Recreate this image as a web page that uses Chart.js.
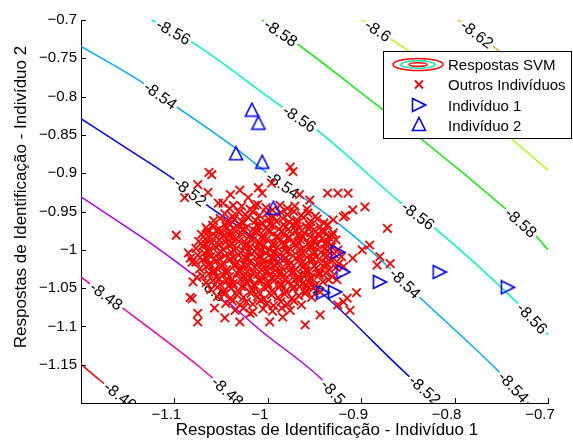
<!DOCTYPE html>
<html><head><meta charset="utf-8">
<script src="https://cdn.jsdelivr.net/npm/chart.js@4.4.0/dist/chart.umd.min.js"></script>
<style>html,body{margin:0;padding:0;background:#fff;}canvas{display:block;}</style>
</head><body>
<canvas id="c" width="573" height="444"></canvas>
<script>
// ---------- data ----------
const xTicks = [-1.1, -1, -0.9, -0.8, -0.7];
const xTickLabels = ['\u22121.1', '\u22121', '\u22120.9', '\u22120.8', '\u22120.7'];
const yTicks = [-1.15, -1.1, -1.05, -1, -0.95, -0.9, -0.85, -0.8, -0.75, -0.7];
const yTickLabels = ['\u22121.15', '\u22121.1', '\u22121.05', '\u22121', '\u22120.95', '\u22120.9', '\u22120.85', '\u22120.8', '\u22120.75', '\u22120.7'];

const contourLevels = ['-8.46', '-8.48', '-8.5', '-8.52', '-8.54', '-8.56', '-8.58', '-8.6', '-8.62'];
const contourColors = ['#ff0000', '#ff00aa', '#aa00ff', '#0000ff', '#00aaff', '#00ffaa', '#00ee00', '#aaff00', '#ffaa00'];

const curva846 = [[-1.205,-1.144],[-1.180,-1.170],[-1.148,-1.200],[-1.142,-1.206]];
const curva848 = [[-1.205,-1.031],[-1.126,-1.103],[-1.073,-1.153],[-1.029,-1.200],[-1.024,-1.206]];
const curva850 = [[-1.205,-0.927],[-1.126,-0.991],[-1.076,-1.036],[-1.043,-1.068],[-1.008,-1.105],[-0.944,-1.167],[-0.919,-1.200],[-0.914,-1.206]];
const curva852 = [[-1.205,-0.825],[-1.148,-0.870],[-1.097,-0.911],[-1.067,-0.940],[-1.022,-0.978],[-0.937,-1.062],[-0.848,-1.166],[-0.816,-1.200],[-0.811,-1.206]];
const curva854 = [[-1.205,-0.731],[-1.134,-0.782],[-1.097,-0.814],[-1.060,-0.845],[-1.034,-0.868],[-0.984,-0.915],[-0.962,-0.932],[-0.912,-0.978],[-0.880,-1.012],[-0.840,-1.059],[-0.751,-1.161],[-0.721,-1.200],[-0.716,-1.206]];
const curva856 = [[-1.137,-0.691],[-1.124,-0.700],[-1.081,-0.729],[-0.984,-0.814],[-0.947,-0.844],[-0.858,-0.938],[-0.823,-0.970],[-0.733,-1.069],[-0.700,-1.111],[-0.695,-1.117]];
const curva858 = [[-1.016,-0.690],[-1.006,-0.700],[-0.971,-0.729],[-0.880,-0.814],[-0.834,-0.857],[-0.744,-0.948],[-0.712,-0.983],[-0.700,-1.000],[-0.695,-1.006]];
const curva860 = [[-0.909,-0.690],[-0.899,-0.700],[-0.867,-0.726],[-0.851,-0.739],[-0.794,-0.795],[-0.737,-0.857],[-0.700,-0.896],[-0.695,-0.901]];
const curva862 = [[-0.806,-0.690],[-0.796,-0.700],[-0.760,-0.733],[-0.751,-0.742],[-0.700,-0.794],[-0.695,-0.799]];
const contourLines = [curva846, curva848, curva850, curva852, curva854, curva856, curva858, curva860, curva862];

// label positions on each contour (data units)
const rotulos846 = [[-1.158,-1.190]];
const rotulos848 = [[-1.173,-1.061],[-1.043,-1.186]];
const rotulos850 = [[-1.059,-1.054],[-0.930,-1.184]];
const rotulos852 = [[-1.083,-0.926],[-0.957,-1.050],[-0.832,-1.183]];
const rotulos854 = [[-1.115,-0.797],[-0.984,-0.915],[-0.853,-1.043],[-0.737,-1.180]];
const rotulos856 = [[-1.101,-0.717],[-0.966,-0.828],[-0.839,-0.955],[-0.717,-1.089]];
const rotulos858 = [[-0.986,-0.717],[-0.729,-0.968]];
const rotulos860 = [[-0.882,-0.713]];
const rotulos862 = [[-0.776,-0.720]];
const contourLabelPos = [rotulos846, rotulos848, rotulos850, rotulos852, rotulos854, rotulos856, rotulos858, rotulos860, rotulos862];

const individuo1 = [[-0.925,-1.003],[-0.919,-1.029],[-0.928,-1.055],[-0.941,-1.056],[-0.880,-1.042],[-0.816,-1.029],[-0.743,-1.049]];
const individuo2 = [[-1.017,-0.817],[-1.010,-0.834],[-1.034,-0.874],[-1.006,-0.885],[-0.994,-0.945]];

const outrosIndividuos = [
[-1.041,-0.946],[-1.028,-0.943],[-1.019,-0.947],[-1.011,-0.941],[-1.002,-0.945],[-0.995,-0.948],[-0.987,-0.942],[-0.979,-0.946],[-0.971,-0.943],[-0.958,-0.947],
[-1.046,-0.953],[-1.038,-0.956],[-1.031,-0.951],[-1.024,-0.954],[-1.016,-0.950],[-1.009,-0.955],[-1.001,-0.952],[-0.994,-0.957],[-0.986,-0.951],[-0.979,-0.954],[-0.972,-0.950],[-0.964,-0.955],[-0.957,-0.952],[-0.949,-0.956],
[-1.058,-0.962],[-1.051,-0.959],[-1.043,-0.964],[-1.036,-0.960],[-1.028,-0.963],[-1.021,-0.958],[-1.013,-0.962],[-1.006,-0.965],[-0.999,-0.960],[-0.991,-0.963],[-0.984,-0.959],[-0.977,-0.964],[-0.969,-0.961],[-0.962,-0.958],[-0.954,-0.963],[-0.947,-0.960],[-0.940,-0.965],
[-1.066,-0.971],[-1.059,-0.968],[-1.052,-0.973],[-1.045,-0.969],[-1.037,-0.972],[-1.030,-0.967],[-1.023,-0.971],[-1.016,-0.974],[-1.009,-0.969],[-1.002,-0.972],[-0.995,-0.968],[-0.988,-0.973],[-0.981,-0.970],[-0.973,-0.967],[-0.966,-0.972],[-0.959,-0.969],[-0.951,-0.974],[-0.944,-0.970],[-0.936,-0.967],
[-1.071,-0.980],[-1.064,-0.977],[-1.056,-0.982],[-1.049,-0.978],[-1.041,-0.981],[-1.034,-0.976],[-1.027,-0.980],[-1.020,-0.983],[-1.012,-0.978],[-1.005,-0.981],[-0.998,-0.977],[-0.990,-0.982],[-0.983,-0.979],[-0.976,-0.976],[-0.968,-0.981],[-0.961,-0.978],[-0.954,-0.983],[-0.946,-0.979],[-0.939,-0.976],[-0.931,-0.981],
[-1.074,-0.989],[-1.067,-0.986],[-1.060,-0.991],[-1.052,-0.987],[-1.045,-0.990],[-1.038,-0.985],[-1.031,-0.989],[-1.023,-0.992],[-1.016,-0.987],[-1.009,-0.990],[-1.001,-0.986],[-0.994,-0.991],[-0.987,-0.988],[-0.979,-0.985],[-0.972,-0.990],[-0.965,-0.987],[-0.957,-0.992],[-0.950,-0.988],[-0.942,-0.985],[-0.935,-0.990],[-0.927,-0.987],
[-1.077,-0.998],[-1.070,-0.995],[-1.063,-1.000],[-1.056,-0.996],[-1.048,-0.999],[-1.041,-0.994],[-1.034,-0.998],[-1.027,-1.001],[-1.019,-0.996],[-1.012,-0.999],[-1.005,-0.995],[-0.998,-1.000],[-0.990,-0.997],[-0.983,-0.994],[-0.976,-0.999],[-0.969,-0.996],[-0.961,-1.001],[-0.954,-0.997],[-0.947,-0.994],[-0.939,-0.999],[-0.932,-0.996],[-0.925,-1.000],
[-1.075,-1.007],[-1.068,-1.004],[-1.061,-1.009],[-1.053,-1.005],[-1.046,-1.008],[-1.039,-1.003],[-1.031,-1.007],[-1.024,-1.010],[-1.017,-1.005],[-1.009,-1.008],[-1.002,-1.004],[-0.995,-1.009],[-0.987,-1.006],[-0.980,-1.003],[-0.973,-1.008],[-0.965,-1.005],[-0.958,-1.010],[-0.951,-1.006],[-0.943,-1.003],[-0.936,-1.008],[-0.929,-1.005],[-0.921,-1.009],
[-1.077,-1.016],[-1.070,-1.013],[-1.062,-1.018],[-1.055,-1.014],[-1.048,-1.017],[-1.040,-1.012],[-1.033,-1.016],[-1.026,-1.019],[-1.018,-1.014],[-1.011,-1.017],[-1.004,-1.013],[-0.997,-1.018],[-0.989,-1.015],[-0.982,-1.012],[-0.975,-1.017],[-0.967,-1.014],[-0.960,-1.019],[-0.953,-1.015],[-0.945,-1.012],[-0.938,-1.017],[-0.931,-1.014],[-0.924,-1.018],
[-1.073,-1.025],[-1.066,-1.022],[-1.058,-1.027],[-1.051,-1.023],[-1.044,-1.026],[-1.036,-1.021],[-1.029,-1.025],[-1.022,-1.028],[-1.014,-1.023],[-1.007,-1.026],[-1.000,-1.022],[-0.992,-1.027],[-0.985,-1.024],[-0.978,-1.021],[-0.970,-1.026],[-0.963,-1.023],[-0.956,-1.028],[-0.948,-1.024],[-0.941,-1.021],[-0.934,-1.026],[-0.927,-1.023],
[-1.070,-1.034],[-1.063,-1.031],[-1.055,-1.036],[-1.048,-1.032],[-1.041,-1.035],[-1.033,-1.030],[-1.026,-1.034],[-1.019,-1.037],[-1.011,-1.032],[-1.004,-1.035],[-0.997,-1.031],[-0.989,-1.036],[-0.982,-1.033],[-0.975,-1.030],[-0.967,-1.035],[-0.960,-1.032],[-0.953,-1.037],[-0.945,-1.033],[-0.938,-1.030],[-0.931,-1.035],
[-1.066,-1.043],[-1.059,-1.040],[-1.051,-1.045],[-1.044,-1.041],[-1.037,-1.044],[-1.029,-1.039],[-1.022,-1.043],[-1.015,-1.046],[-1.007,-1.041],[-1.000,-1.044],[-0.993,-1.040],[-0.985,-1.045],[-0.978,-1.042],[-0.971,-1.039],[-0.963,-1.044],[-0.956,-1.041],[-0.949,-1.046],[-0.941,-1.042],[-0.935,-1.039],
[-1.061,-1.052],[-1.054,-1.049],[-1.047,-1.054],[-1.039,-1.050],[-1.032,-1.053],[-1.025,-1.048],[-1.017,-1.052],[-1.010,-1.055],[-1.003,-1.050],[-0.995,-1.053],[-0.988,-1.049],[-0.981,-1.054],[-0.973,-1.051],[-0.966,-1.048],[-0.959,-1.053],[-0.951,-1.050],[-0.944,-1.055],
[-1.054,-1.061],[-1.047,-1.058],[-1.040,-1.063],[-1.033,-1.059],[-1.026,-1.062],[-1.018,-1.057],[-1.011,-1.061],[-1.004,-1.064],[-0.996,-1.059],[-0.989,-1.062],[-0.982,-1.058],[-0.974,-1.063],[-0.967,-1.060],[-0.960,-1.057],[-0.953,-1.062],
[-1.045,-1.070],[-1.038,-1.067],[-1.030,-1.072],[-1.023,-1.068],[-1.016,-1.071],[-1.008,-1.066],[-1.001,-1.070],[-0.994,-1.073],[-0.986,-1.068],[-0.979,-1.071],[-0.972,-1.067],[-0.964,-1.072],
[-1.035,-1.079],[-1.026,-1.076],[-1.016,-1.081],[-1.005,-1.077],[-0.995,-1.080],[-0.985,-1.076],[-0.976,-1.079],
[-1.040,-0.967],[-1.026,-0.965],[-1.012,-0.968],[-0.998,-0.966],[-0.983,-0.967],[-0.969,-0.965],[-0.955,-0.968],
[-1.055,-0.975],[-1.041,-0.977],[-1.027,-0.974],[-1.013,-0.976],[-0.999,-0.974],[-0.985,-0.977],[-0.970,-0.975],[-0.956,-0.973],[-0.942,-0.976],
[-1.062,-0.984],[-1.048,-0.982],[-1.034,-0.985],[-1.020,-0.983],[-1.005,-0.985],[-0.991,-0.983],[-0.977,-0.984],[-0.963,-0.982],[-0.949,-0.985],[-0.935,-0.983],
[-1.066,-0.993],[-1.052,-0.994],[-1.038,-0.992],[-1.024,-0.994],[-1.009,-0.992],[-0.995,-0.994],[-0.981,-0.993],[-0.967,-0.991],[-0.953,-0.994],[-0.939,-0.992],
[-1.064,-1.002],[-1.050,-1.003],[-1.036,-1.001],[-1.021,-1.003],[-1.007,-1.001],[-0.993,-1.003],[-0.979,-1.002],[-0.965,-1.000],[-0.950,-1.003],[-0.936,-1.001],
[-1.066,-1.011],[-1.052,-1.012],[-1.037,-1.010],[-1.023,-1.012],[-1.009,-1.010],[-0.995,-1.012],[-0.981,-1.011],[-0.966,-1.009],[-0.952,-1.012],[-0.938,-1.010],
[-1.063,-1.020],[-1.049,-1.021],[-1.035,-1.019],[-1.021,-1.021],[-1.006,-1.019],[-0.992,-1.021],[-0.978,-1.020],[-0.964,-1.018],[-0.950,-1.021],[-0.936,-1.019],
[-1.058,-1.029],[-1.044,-1.030],[-1.030,-1.028],[-1.016,-1.030],[-1.001,-1.028],[-0.987,-1.030],[-0.973,-1.029],[-0.959,-1.027],[-0.945,-1.030],
[-1.052,-1.038],[-1.038,-1.039],[-1.024,-1.037],[-1.010,-1.039],[-0.996,-1.037],[-0.982,-1.039],[-0.968,-1.038],[-0.954,-1.036],
[-1.042,-1.047],[-1.028,-1.048],[-1.014,-1.046],[-1.000,-1.048],[-0.986,-1.046],[-0.972,-1.048],[-0.958,-1.047],
[-1.098,-0.981],[-1.085,-1.004],[-1.083,-1.011],[-1.081,-1.016],[-1.076,-1.036],[-1.080,-1.042],[-1.083,-1.062],[-1.081,-1.064],[-1.075,-1.083],[-1.075,-1.094],
[-1.060,-0.902],[-1.063,-0.899],[-1.075,-0.915],[-1.064,-0.925],[-1.089,-0.932],[-1.053,-0.939],[-1.048,-0.939],[-1.037,-0.942],[-1.064,-0.974],[-1.044,-0.964],
[-1.021,-0.932],[-1.014,-0.942],[-1.006,-0.926],[-0.996,-0.913],[-0.976,-0.892],[-0.973,-0.898],[-1.040,-0.928],[-1.030,-0.922],[-1.010,-0.919],[-0.966,-0.928],[-0.955,-0.935],
[-0.936,-0.926],[-0.925,-0.926],[-0.914,-0.926],[-0.917,-0.955],[-0.930,-0.978],[-0.896,-0.944],[-0.909,-0.948],[-0.919,-0.957],[-0.930,-0.961],[-0.872,-0.972],
[-0.891,-0.994],[-0.899,-1.000],[-0.909,-1.011],[-0.880,-1.009],[-0.919,-1.022],[-0.883,-1.020],[-0.869,-1.018],[-0.926,-1.039],
[-0.919,-1.068],[-0.905,-1.056],[-0.915,-1.063],[-0.925,-1.072],[-0.912,-1.079],[-0.944,-1.085],[-0.960,-1.098],[-0.984,-1.088],[-1.019,-1.083],[-1.008,-1.066],
[-1.046,-1.089],[-1.030,-1.094],[-1.057,-1.076],[-0.998,-1.094]
];

// ---------- drawing ----------
const FONT = '"Liberation Sans", Arial, Helvetica, sans-serif';
const toXY = a => a.map(p => ({x: p[0], y: p[1]}));

function triImg(dir) {
  const c = document.createElement('canvas'); c.width = 16; c.height = 16;
  const g = c.getContext('2d'); g.strokeStyle = '#0000ff'; g.lineWidth = 1.6; g.beginPath();
  if (dir === 'up') { g.moveTo(8, 1.5); g.lineTo(14.5, 14.5); g.lineTo(1.5, 14.5); }
  else { g.moveTo(1.5, 1.5); g.lineTo(14.5, 8); g.lineTo(1.5, 14.5); }
  g.closePath(); g.stroke(); return c;
}
const triUp = triImg('up'), triRight = triImg('right');

const datasets = [
  {label: 'Indivíduo 2', data: toXY(individuo2), pointStyle: triUp, pointRadius: 8, borderColor: '#0000ff', backgroundColor: 'rgba(0,0,0,0)', order: 0},
  {label: 'Indivíduo 1', data: toXY(individuo1), pointStyle: triRight, pointRadius: 8, borderColor: '#0000ff', backgroundColor: 'rgba(0,0,0,0)', order: 1},
  {label: 'Outros Indivíduos', data: toXY(outrosIndividuos), pointStyle: 'crossRot', pointRadius: 6, pointBorderWidth: 1.8, borderColor: '#ff0000', backgroundColor: '#ff0000', order: 2}
];
contourLines.forEach((line, i) => {
  datasets.push({label: contourLevels[i], data: toXY(line), showLine: true, borderColor: contourColors[i], borderWidth: 1.5,
    pointRadius: 0, cubicInterpolationMode: 'monotone', fill: false, clip: 0, order: 3 + i});
});

function yAt(pts, px) {
  let k = 0;
  while (k < pts.length - 2 && pts[k + 1][0] < px) k++;
  const a = pts[k], b = pts[k + 1];
  return a[1] + (px - a[0]) / (b[0] - a[0]) * (b[1] - a[1]);
}

function drawContourLabels(chart) {
  const {ctx, chartArea: A} = chart; const xs = chart.scales.x, ys = chart.scales.y;
  ctx.save();
  ctx.beginPath(); ctx.rect(A.left, A.top, A.right - A.left, A.bottom - A.top); ctx.clip();
  ctx.font = '16px ' + FONT;
  contourLabelPos.forEach((list, i) => {
    const pts = contourLines[i].map(p => [xs.getPixelForValue(p[0]), ys.getPixelForValue(p[1])]);
    list.forEach(lp => {
      const px = xs.getPixelForValue(lp[0]);
      const py = yAt(pts, px);
      const ang = Math.atan2(yAt(pts, px + 10) - yAt(pts, px - 10), 20);
      const txt = contourLevels[i]; const w = ctx.measureText(txt).width;
      ctx.save(); ctx.translate(px, py); ctx.rotate(ang);
      ctx.fillStyle = '#fff'; ctx.fillRect(-w / 2 - 2, -4, w + 4, 8);
      ctx.fillStyle = '#000'; ctx.textAlign = 'center'; ctx.textBaseline = 'middle';
      ctx.fillText(txt, 0, 1);
      ctx.restore();
    });
  });
  ctx.restore();
}

const matlabPlugin = {
  id: 'matlab',
  afterDatasetDraw(chart, args) { if (args.index === 3) drawContourLabels(chart); },
  afterDraw(chart) {
    const {ctx, chartArea: A} = chart; const xs = chart.scales.x, ys = chart.scales.y;
    ctx.save();
    // inward ticks
    ctx.strokeStyle = '#000'; ctx.lineWidth = 1; ctx.beginPath();
    xTicks.forEach(v => { const p = Math.round(xs.getPixelForValue(v)) + 0.5; ctx.moveTo(p, A.bottom); ctx.lineTo(p, A.bottom - 5); });
    yTicks.forEach(v => { const p = Math.round(ys.getPixelForValue(v)) + 0.5; ctx.moveTo(A.left, p); ctx.lineTo(A.left + 5, p); });
    ctx.stroke();
    // axis titles
    ctx.fillStyle = '#000'; ctx.font = '17px ' + FONT; ctx.textAlign = 'center'; ctx.textBaseline = 'alphabetic';
    ctx.fillText('Respostas de Identificação - Indivíduo 1', 327, 435);
    ctx.save(); ctx.translate(26, 197); ctx.rotate(-Math.PI / 2);
    ctx.fillText('Respostas de Identificação - Indivíduo 2', 0, 0); ctx.restore();
    // legend
    ctx.fillStyle = '#fff'; ctx.fillRect(383, 51, 188, 87);
    ctx.strokeStyle = '#000'; ctx.lineWidth = 1; ctx.strokeRect(383.5, 51.5, 188, 87);
    ctx.lineWidth = 1.5;
    [[25, 6, '#ff0000'], [17, 3.7, '#00e0a0'], [9, 1.8, '#ff0000']].forEach(e => {
      ctx.strokeStyle = e[2]; ctx.beginPath(); ctx.ellipse(418, 64.5, e[0], e[1], 0, 0, Math.PI * 2); ctx.stroke();
    });
    ctx.strokeStyle = '#ff0000'; ctx.lineWidth = 1.8; ctx.beginPath();
    ctx.moveTo(415, 80.5); ctx.lineTo(423, 88.5); ctx.moveTo(423, 80.5); ctx.lineTo(415, 88.5); ctx.stroke();
    ctx.drawImage(triRight, 411, 97); ctx.drawImage(triUp, 411, 116);
    ctx.fillStyle = '#000'; ctx.font = '15px ' + FONT; ctx.textAlign = 'left'; ctx.textBaseline = 'alphabetic';
    ctx.fillText('Respostas SVM', 448, 69.5);
    ctx.fillText('Outros Indivíduos', 448, 90);
    ctx.fillText('Indivíduo 1', 448, 110.5);
    ctx.fillText('Indivíduo 2', 448, 130.5);
    ctx.restore();
  }
};

Chart.defaults.font.family = FONT;
new Chart(document.getElementById('c'), {
  type: 'scatter',
  data: {datasets},
  options: {
    responsive: false, animation: false, devicePixelRatio: 1, events: [],
    layout: {padding: {left: 0, right: 25, top: 20, bottom: 0}},
    plugins: {legend: {display: false}, tooltip: {enabled: false}},
    scales: {
      x: {type: 'linear', position: 'bottom', min: -1.2, max: -0.7,
        grid: {display: false, drawTicks: false}, border: {display: true, color: '#000', width: 1},
        ticks: {font: {size: 15, family: FONT}, color: '#000', padding: 3, labelOffset: -8, maxRotation: 0, autoSkip: false,
          callback: v => { const i = xTicks.findIndex(t => Math.abs(t - v) < 1e-9); return i >= 0 ? xTickLabels[i] : ''; }},
        afterBuildTicks: s => { s.ticks = xTicks.map(v => ({value: v})); },
        afterFit: s => { s.height = 41; s.paddingLeft = 0; s.paddingRight = 0; }
      },
      y: {type: 'linear', position: 'left', min: -1.2, max: -0.7,
        grid: {display: false, drawTicks: false}, border: {display: true, color: '#000', width: 1},
        ticks: {font: {size: 15, family: FONT}, color: '#000', padding: 4, autoSkip: false,
          callback: v => { const i = yTicks.findIndex(t => Math.abs(t - v) < 1e-9); return i >= 0 ? yTickLabels[i] : ''; }},
        afterBuildTicks: s => { s.ticks = yTicks.map(v => ({value: v})); },
        afterFit: s => { s.width = 81; s.paddingTop = 0; s.paddingBottom = 0; }
      }
    }
  },
  plugins: [matlabPlugin]
});
</script>
</body></html>
